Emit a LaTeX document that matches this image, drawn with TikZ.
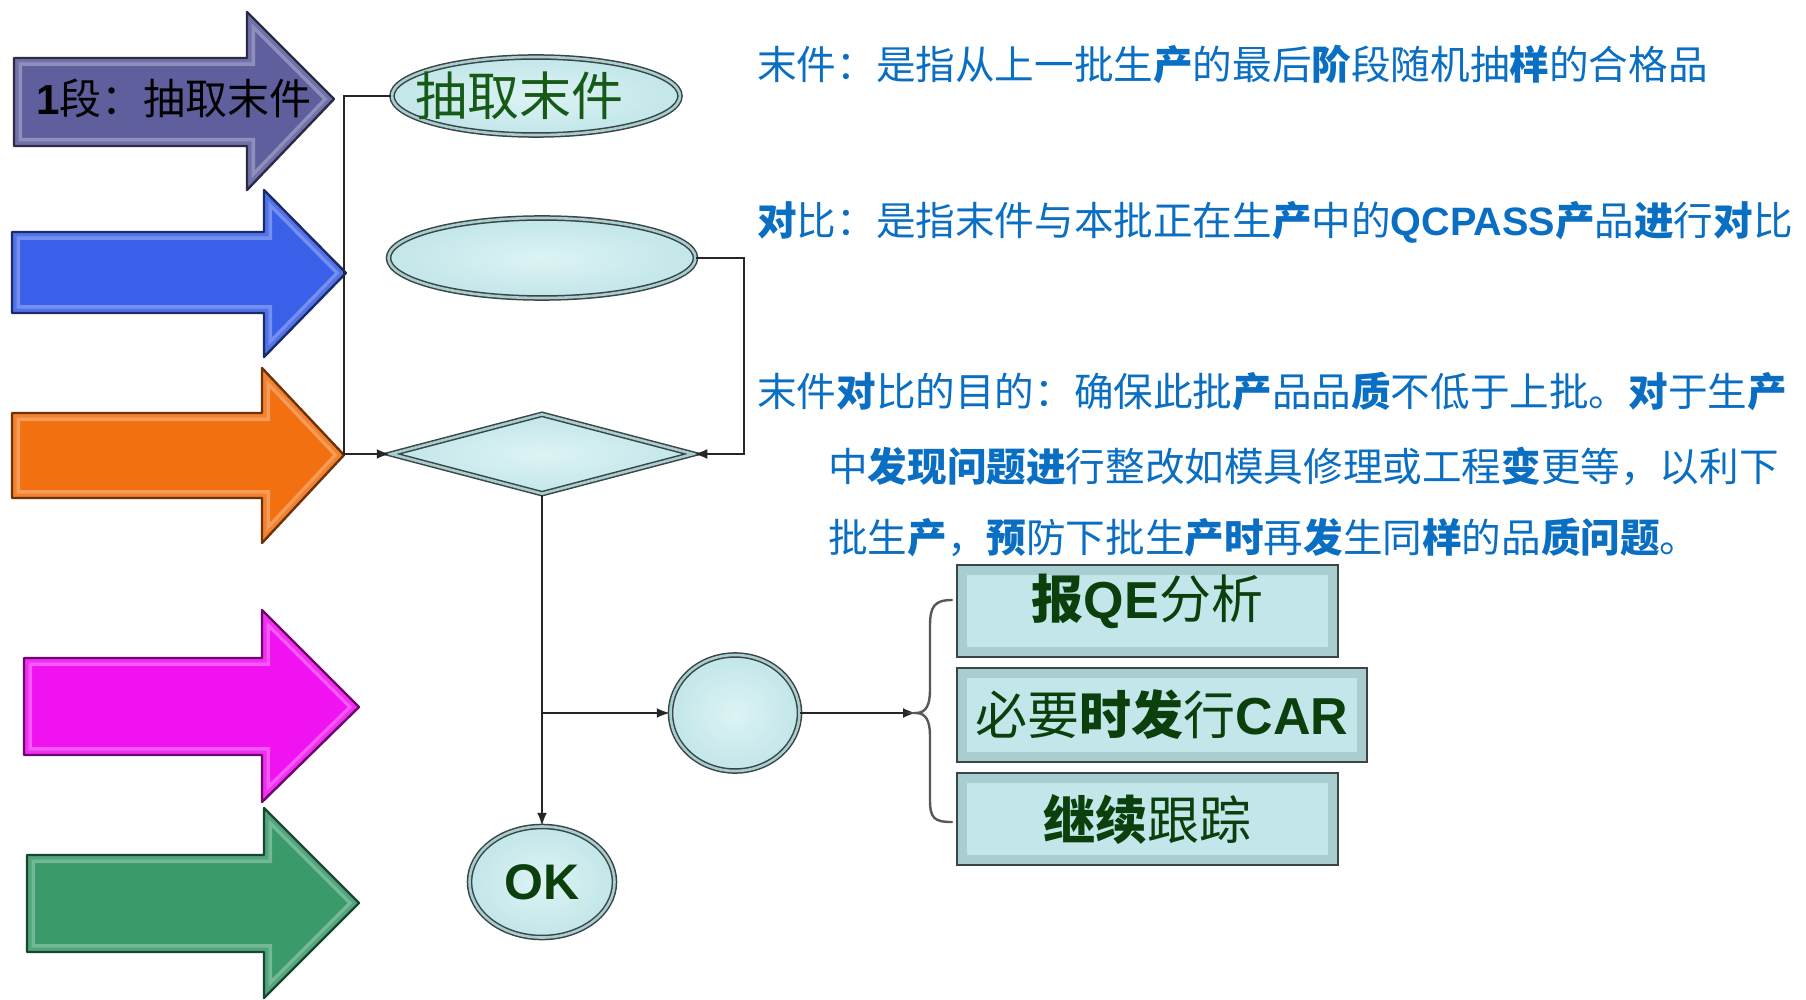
\documentclass[tikz,border=0pt]{standalone}
\usepackage{fontspec}
\usetikzlibrary{shapes.geometric,arrows.meta,calc}
\newfontfamily\cjk{Noto Sans CJK SC}
\newfontfamily\lat{Liberation Sans}
\newcommand\bb[1]{{\bfseries #1}}
\definecolor{txtblue}{HTML}{0A6FC2}
\definecolor{dkgreen}{HTML}{0B3F0B}
\definecolor{elgreen}{HTML}{175A17}
\definecolor{cyfill}{HTML}{C2E6E9}
\definecolor{cyin}{HTML}{DDF3F4}
\definecolor{cyout}{HTML}{A9CDD0}
\definecolor{bord}{HTML}{3A4646}
\definecolor{apurple}{HTML}{5F5F9E}
\definecolor{ablue}{HTML}{3A5FE8}
\definecolor{aorange}{HTML}{F27010}
\definecolor{amagenta}{HTML}{F012F0}
\definecolor{agreen}{HTML}{3A9A6A}
% block arrow: color, x0, ytop, ybot, xhead, yheadtop, yheadbot, xtip, ytip
\newcommand\barrow[9]{%
  \begin{scope}
    \clip (#2,#3) -- (#5,#3) -- (#5,#6) -- (#8,#9) -- (#5,#7) -- (#5,#4) -- (#2,#4) -- cycle;
    \fill[#1] (#2,#3) -- (#5,#3) -- (#5,#6) -- (#8,#9) -- (#5,#7) -- (#5,#4) -- (#2,#4) -- cycle;
    \draw[line width=16pt, #1!70!white] (#2,#3) -- (#5,#3) -- (#5,#6) -- (#8,#9) -- (#5,#7) -- (#5,#4) -- (#2,#4) -- cycle;
    \draw[line width=9pt, #1!88!white] (#2,#3) -- (#5,#3) -- (#5,#6) -- (#8,#9) -- (#5,#7) -- (#5,#4) -- (#2,#4) -- cycle;
  \end{scope}
  \draw[line width=2.4pt, #1!45!black, line join=round] (#2,#3) -- (#5,#3) -- (#5,#6) -- (#8,#9) -- (#5,#7) -- (#5,#4) -- (#2,#4) -- cycle;
}
\begin{document}
\begin{tikzpicture}[x=1pt,y=-1pt,
  conn/.style={line width=2pt, draw=black!85},
  arr/.style={conn, -{Latex[length=13pt,width=10pt]}},
  oval/.style={ellipse, draw=bord, line width=1.5pt, double=cyout, double distance=2.6pt,
    inner color=cyin, outer color=cyfill, inner sep=0pt},
  diam/.style={diamond, draw=bord, line width=1.5pt, double=cyout, double distance=2.6pt,
    inner color=cyin, outer color=cyfill, inner sep=0pt},
  sbox/.style={rectangle, draw=bord, line width=2.8pt, fill=cyout, inner sep=0pt,
    path picture={\fill[cyfill] ([xshift=10pt,yshift=-10pt]path picture bounding box.north west)
       rectangle ([xshift=-10pt,yshift=10pt]path picture bounding box.south east);},
    text=dkgreen, font=\cjk\fontsize{52}{60}\selectfont},
  txt/.style={anchor=base west, inner sep=0pt, text=txtblue, font=\cjk\fontsize{39.6}{44}\selectfont}
]
\useasboundingbox (0,0) rectangle (1806,1000);
\fill[white] (0,0) rectangle (1806,1000);

% block arrows
\barrow{apurple}{14}{58}{146}{247}{12}{190}{334}{99}
\barrow{ablue}{12}{232}{313}{264}{190}{357}{346}{273}
\barrow{aorange}{12}{413}{498}{262}{368}{543}{344}{455}
\barrow{amagenta}{24}{658}{755}{262}{610}{802}{359}{707}
\barrow{agreen}{27}{855}{952}{264}{808}{998}{359}{903}
\node[anchor=west, inner sep=0pt, text=black] (lab1) at (36,99)
  {\fontsize{42}{42}\selectfont{\lat\bfseries 1}\cjk 段：抽取末件};

% flow shapes
\node[oval, minimum width=288pt, minimum height=78pt, text=elgreen,
  font=\cjk\fontsize{52}{52}\selectfont] (e1) at (536,96) {\hspace*{-34pt}抽取末件};
\node[oval, minimum width=307pt, minimum height=80pt] (e2) at (542,258) {};
\node[diam, minimum width=303pt, minimum height=80pt] (dia) at (542,454) {};
\node[oval, minimum width=145pt, minimum height=111pt, text=dkgreen,
  font=\lat\bfseries\fontsize{50}{50}\selectfont] (ok) at (542,882) {OK};
\node[oval, minimum width=129pt, minimum height=116pt] (sc) at (735,713) {};

\node[sbox, minimum width=381pt, minimum height=92pt, text depth=30pt] (b1) at (1147.5,611)
  {\bb{报}{\lat\bfseries QE}分析};
\node[sbox, minimum width=410pt, minimum height=94pt] (b2) at (1162,715)
  {必要\bb{时发}行{\lat\bfseries CAR}};
\node[sbox, minimum width=381pt, minimum height=92pt] (b3) at (1147.5,819)
  {\bb{继续}跟踪};

% connectors
\coordinate (j1) at (344,0);
\coordinate (j2) at (744,0);
\coordinate (bp) at (916,713);
\draw[arr] (e1.west) -- (e1.west -| j1) |- (dia.west);
\draw[arr] (e2.east) -- (e2.east -| j2) |- (dia.east);
\draw[arr] (dia.south) -- (ok.north);
\draw[arr] (dia.south |- sc.west) -- (sc.west);
\draw[arr] (sc.east) -- (bp);

% brace
\draw[line width=2.4pt, draw=black!65, line cap=round]
  (952,600) .. controls (934,600) and (930,607) .. (930,626) -- (930,690)
  .. controls (930,705) and (926,713) .. (bp)
  .. controls (926,713) and (930,721) .. (930,736) -- (930,800)
  .. controls (930,818) and (934,822) .. (952,822);

% texts
\node[txt] (t1) at (757,80) {末件：是指从上一批生\bb{产}的最后\bb{阶}段随机抽\bb{样}的合格品};
\node[txt] (t2) at (757,236) {\bb{对}比：是指末件与本批正在生\bb{产}中的{\lat\bfseries QCPASS}\bb{产}品\bb{进}行\bb{对}比};
\node[txt] (t3) at (757,406) {末件\bb{对}比的目的：确保此批\bb{产}品品\bb{质}不低于上批。\bb{对}于生\bb{产}};
\node[txt] (t4) at (828,481) {中\bb{发现问题进}行整改如模具修理或工程\bb{变}更等，以利下};
\node[txt] (t5) at (828,552) {批生\bb{产}，\bb{预}防下批生\bb{产时}再\bb{发}生同\bb{样}的品\bb{质问题}。};
\end{tikzpicture}
\end{document}
